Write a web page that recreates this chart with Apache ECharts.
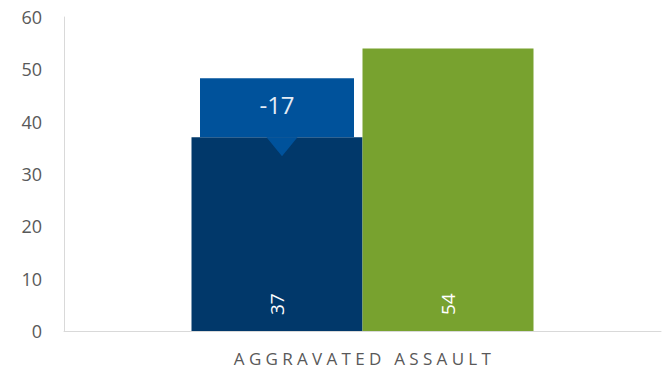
<!DOCTYPE html>
<html>
<head>
<meta charset="utf-8">
<script src="https://cdn.jsdelivr.net/npm/echarts@6/dist/echarts.min.js"></script>
<style>
html,body{margin:0;padding:0;background:#fff;}
#c{width:663px;height:373px;}
</style>
</head>
<body>
<div id="c"></div>
<script>
var categories = ['AGGRAVATED ASSAULT'];
var prevValues = [37];
var currValues = [54];
var changeValues = [-17];
var yTicks = [0, 10, 20, 30, 40, 50, 60];

var FONT = 'Open Sans';
var BAR_W = 171;
var BOX_W = 154, BOX_H = 59, TRI_W = 31, TRI_H = 19, TRI_DX = 5;

var chart = echarts.init(document.getElementById('c'), null, {renderer: 'svg'});
chart.setOption({
  animation: false,
  backgroundColor: '#fff',
  grid: {left: 64, right: 2, top: 17, bottom: 42, containLabel: false},
  xAxis: {
    type: 'category',
    data: categories,
    axisLine: {show: true, lineStyle: {color: '#d9d9d9', width: 1}},
    axisTick: {show: false},
    axisLabel: {color: '#595959', fontSize: 17, fontFamily: FONT, margin: 19}
  },
  yAxis: {
    type: 'value',
    min: yTicks[0], max: yTicks[yTicks.length - 1], interval: 10,
    axisLine: {show: true, lineStyle: {color: '#d9d9d9', width: 1}},
    axisTick: {show: false},
    splitLine: {show: false},
    axisLabel: {color: '#595959', fontSize: 18, fontFamily: FONT, margin: 22}
  },
  series: [
    {
      type: 'bar', data: prevValues, barWidth: BAR_W, barGap: '0%',
      itemStyle: {color: '#01386a'},
      label: {show: true, position: 'insideBottom', rotate: 90, align: 'left', verticalAlign: 'middle',
        distance: 16, color: '#ffffff', fontSize: 19, fontFamily: FONT}
    },
    {
      type: 'bar', data: currValues, barWidth: BAR_W, barGap: '0%',
      itemStyle: {color: '#78a22f'},
      label: {show: true, position: 'insideBottom', rotate: 90, align: 'left', verticalAlign: 'middle',
        distance: 16, color: '#ffffff', fontSize: 19, fontFamily: FONT}
    },
    {
      type: 'custom', z: 10,
      data: prevValues.map(function (v, i) { return [i, v, changeValues[i]]; }),
      renderItem: function (params, api) {
        var p = api.coord([api.value(0), api.value(1)]);
        var cx = p[0] - BAR_W / 2;
        var by = p[1];
        var tx = cx + TRI_DX;
        return {
          type: 'group',
          children: [
            {type: 'rect', shape: {x: cx - BOX_W / 2, y: by - BOX_H, width: BOX_W, height: BOX_H},
              style: {fill: '#00529b'}},
            {type: 'polygon', shape: {points: [[tx - TRI_W / 2, by], [tx + TRI_W / 2, by], [tx, by + TRI_H]]},
              style: {fill: '#00529b'}},
            {type: 'text', style: {text: String(api.value(2)), x: cx, y: by - BOX_H / 2 - 3,
              align: 'center', verticalAlign: 'middle', fontSize: 24, fontFamily: FONT, fill: '#e4ecf5'}}
          ]
        };
      }
    }
  ]
});

function spaceLabel() {
  var texts = document.querySelectorAll('#c text');
  for (var i = 0; i < texts.length; i++) {
    if (texts[i].textContent === categories[0]) {
      texts[i].style.letterSpacing = '4.3px';
      texts[i].setAttribute('transform', (texts[i].getAttribute('transform') || '') + ' translate(2,0)');
    }
  }
}
chart.on('finished', spaceLabel);
spaceLabel();
</script>
</body>
</html>
